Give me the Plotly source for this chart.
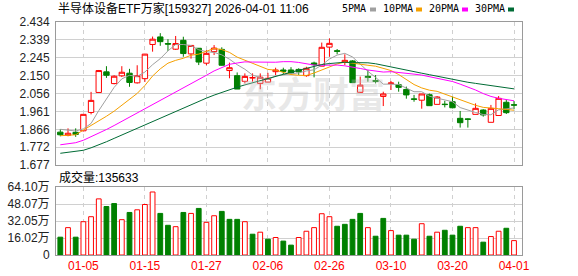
import plotly.graph_objects as go

# ---------------- data ----------------
dates = ["12-29", "12-30", "12-31", "01-05", "01-06", "01-07", "01-08", "01-09", "01-12", "01-13",
         "01-14", "01-15", "01-16", "01-19", "01-20", "01-21", "01-22", "01-23", "01-26", "01-27",
         "01-28", "01-29", "01-30", "02-02", "02-03", "02-04", "02-05", "02-06", "02-09", "02-10",
         "02-11", "02-12", "02-13", "02-24", "02-25", "02-26", "02-27", "03-02", "03-03", "03-04",
         "03-05", "03-06", "03-09", "03-10", "03-11", "03-12", "03-13", "03-16", "03-17", "03-18",
         "03-19", "03-20", "03-23", "03-24", "03-25", "03-26", "03-27", "03-30", "03-31", "04-01"]

opens = [1.851, 1.834, 1.850, 1.858, 1.955, 2.061, 2.170, 2.108, 2.149, 2.163,
         2.112, 2.134, 2.315, 2.355, 2.320, 2.290, 2.337, 2.265, 2.295, 2.216,
         2.277, 2.289, 2.177, 2.150, 2.120, 2.137, 2.109, 2.116, 2.171, 2.180,
         2.180, 2.183, 2.150, 2.217, 2.200, 2.301, 2.282, 2.220, 2.228, 2.062,
         2.146, 2.124, 2.040, 2.108, 2.102, 2.077, 2.027, 2.020, 2.049, 1.998,
         1.999, 2.012, 1.924, 1.921, 1.945, 1.968, 1.903, 1.939, 2.009, 1.996]
highs = [1.866, 1.871, 1.871, 1.945, 2.064, 2.180, 2.200, 2.152, 2.200, 2.186,
         2.205, 2.265, 2.357, 2.375, 2.343, 2.360, 2.356, 2.310, 2.296, 2.285,
         2.312, 2.300, 2.219, 2.167, 2.162, 2.162, 2.162, 2.165, 2.192, 2.192,
         2.195, 2.189, 2.197, 2.224, 2.325, 2.347, 2.291, 2.263, 2.232, 2.145,
         2.180, 2.153, 2.065, 2.122, 2.118, 2.092, 2.048, 2.053, 2.055, 2.042,
         2.017, 2.039, 1.963, 1.924, 2.003, 1.972, 1.995, 2.042, 2.021, 2.016]
lows = [1.829, 1.829, 1.826, 1.855, 1.945, 2.061, 2.138, 2.104, 2.143, 2.091,
        2.108, 2.117, 2.277, 2.308, 2.281, 2.286, 2.250, 2.240, 2.206, 2.205,
        2.259, 2.203, 2.136, 2.079, 2.109, 2.118, 2.078, 2.115, 2.153, 2.158,
        2.158, 2.154, 2.144, 2.141, 2.200, 2.250, 2.263, 2.206, 2.111, 2.062,
        2.118, 2.109, 1.989, 2.074, 2.065, 2.028, 2.012, 1.975, 1.991, 1.998,
        1.982, 1.977, 1.875, 1.875, 1.945, 1.933, 1.903, 1.939, 1.947, 1.972]
closes = [1.837, 1.845, 1.839, 1.945, 2.019, 2.177, 2.152, 2.147, 2.168, 2.114,
          2.150, 2.264, 2.343, 2.330, 2.317, 2.320, 2.267, 2.310, 2.222, 2.268,
          2.296, 2.205, 2.192, 2.079, 2.146, 2.140, 2.142, 2.136, 2.180, 2.173,
          2.164, 2.170, 2.189, 2.208, 2.300, 2.321, 2.279, 2.231, 2.113, 2.100,
          2.141, 2.120, 2.053, 2.111, 2.088, 2.048, 2.025, 2.053, 1.991, 2.037,
          1.997, 1.980, 1.901, 1.919, 1.977, 1.942, 1.977, 2.030, 1.954, 1.994]

ma5 = [1.866, 1.862, 1.857, 1.868, 1.897, 1.965, 2.026, 2.088, 2.133, 2.152,
       2.146, 2.169, 2.208, 2.240, 2.281, 2.315, 2.315, 2.309, 2.287, 2.277,
       2.273, 2.260, 2.237, 2.208, 2.184, 2.153, 2.140, 2.129, 2.149, 2.155,
       2.158, 2.165, 2.175, 2.181, 2.206, 2.238, 2.259, 2.268, 2.249, 2.209,
       2.173, 2.141, 2.105, 2.105, 2.103, 2.084, 2.065, 2.065, 2.041, 2.031,
       2.021, 2.012, 1.981, 1.967, 1.955, 1.944, 1.943, 1.969, 1.976, 1.979]
ma10 = [1.832, 1.833, 1.837, 1.862, 1.885, 1.910, 1.935, 1.962, 1.995, 2.024,
        2.056, 2.098, 2.148, 2.186, 2.216, 2.231, 2.242, 2.258, 2.264, 2.279,
        2.294, 2.288, 2.273, 2.248, 2.231, 2.213, 2.200, 2.183, 2.179, 2.169,
        2.156, 2.152, 2.151, 2.164, 2.180, 2.198, 2.212, 2.222, 2.215, 2.208,
        2.205, 2.200, 2.187, 2.177, 2.156, 2.128, 2.103, 2.085, 2.073, 2.067,
        2.052, 2.038, 2.023, 2.004, 1.993, 1.982, 1.977, 1.975, 1.971, 1.967]
ma20 = [1.784, 1.788, 1.795, 1.808, 1.826, 1.845, 1.865, 1.886, 1.908, 1.930,
        1.950, 1.972, 1.995, 2.018, 2.040, 2.063, 2.085, 2.108, 2.130, 2.152,
        2.175, 2.193, 2.210, 2.217, 2.223, 2.222, 2.221, 2.220, 2.221, 2.224,
        2.224, 2.220, 2.212, 2.206, 2.205, 2.205, 2.206, 2.202, 2.196, 2.188,
        2.180, 2.176, 2.169, 2.171, 2.168, 2.163, 2.158, 2.153, 2.144, 2.137,
        2.129, 2.119, 2.105, 2.090, 2.074, 2.055, 2.040, 2.030, 2.022, 2.017]
ma30 = [1.739, 1.743, 1.747, 1.755, 1.768, 1.783, 1.800, 1.818, 1.836, 1.854,
        1.870, 1.888, 1.906, 1.924, 1.942, 1.960, 1.978, 1.996, 2.014, 2.031,
        2.047, 2.062, 2.076, 2.089, 2.101, 2.113, 2.125, 2.136, 2.147, 2.157,
        2.168, 2.179, 2.191, 2.199, 2.209, 2.214, 2.218, 2.221, 2.219, 2.218,
        2.218, 2.213, 2.204, 2.196, 2.189, 2.180, 2.171, 2.163, 2.155, 2.147,
        2.138, 2.130, 2.120, 2.115, 2.109, 2.103, 2.097, 2.094, 2.086, 2.080]

# volume in 万 (10k)
volumes = [16.8, 25.8, 16.8, 31.4, 36.1, 52.9, 45.7, 48.5, 33.3, 40.1,
           42.6, 47.6, 59.4, 39.2, 28.0, 26.7, 40.1, 39.2, 43.9, 30.8,
           37.0, 41.1, 33.6, 33.6, 31.4, 19.6, 21.5, 14.9, 16.5, 13.1,
           9.3, 16.5, 22.4, 25.8, 38.9, 36.1, 27.1, 28.9, 33.6, 39.2,
           25.8, 17.7, 34.5, 23.0, 18.7, 18.7, 14.9, 29.5, 17.7, 21.5,
           23.3, 18.7, 27.1, 25.8, 25.8, 12.1, 17.4, 22.4, 25.2, 13.56]

price_ticks = [1.677, 1.772, 1.866, 1.961, 2.056, 2.150, 2.245, 2.339, 2.434]
vol_ticks = [0, 16.02, 32.05, 48.07, 64.10]
vol_tick_text = ["0", "16.02万", "32.05万", "48.07万", "64.10万"]
date_ticks = ["01-05", "01-15", "01-27", "02-06", "02-26", "03-10", "03-20", "04-01"]

title_text = "半导体设备ETF万家[159327] 2026-04-01 11:06"
vol_title = "成交量:135633"
ma_names = ["5PMA", "10PMA", "20PMA", "30PMA"]

# ---------------- styling ----------------
RED = "#ff0000"
GREEN = "#008000"
MA_COLORS = ["#a0a0a0", "#f5a000", "#ff00ff", "#006b35"]
GRID = "#d0d0d0"
BORDER = "#9a9a9a"
FONT = "Liberation Sans, Noto Sans CJK SC, sans-serif"

W, H = 578, 276
L, R, T, B = 56, 56, 22, 21
PW, PH = W - L - R, H - T - B


def px_x(x):
    return (x - L) / PW


def px_y(y):
    return (H - B - y) / PH


fig = go.Figure()

fig.add_trace(go.Candlestick(
    x=dates, open=opens, high=highs, low=lows, close=closes,
    increasing=dict(line=dict(color=RED, width=1), fillcolor="white"),
    decreasing=dict(line=dict(color=GREEN, width=1), fillcolor=GREEN),
    whiskerwidth=0, xaxis="x", yaxis="y", showlegend=False, hoverinfo="skip"))

for vals, col in zip([ma5, ma10, ma20, ma30], MA_COLORS):
    fig.add_trace(go.Scatter(x=dates, y=vals, mode="lines",
                             line=dict(color=col, width=1),
                             xaxis="x", yaxis="y", showlegend=False, hoverinfo="skip"))

up = [closes[i] >= (closes[i - 1] if i > 0 else opens[i]) for i in range(len(closes))]
fig.add_trace(go.Bar(
    x=dates, y=volumes, width=0.62,
    marker=dict(color=["white" if u else GREEN for u in up],
                line=dict(color=[RED if u else GREEN for u in up], width=1)),
    xaxis="x2", yaxis="y2", showlegend=False, hoverinfo="skip"))

xcommon = dict(type="category", range=[-0.56, 60.04], tickmode="array", tickvals=date_ticks,
               ticktext=date_ticks, showgrid=True, gridcolor=GRID, griddash="4px,4px", gridwidth=1,
               showline=True, mirror=True, linecolor=BORDER, linewidth=1, ticks="",
               zeroline=False, fixedrange=True, automargin=False)

fig.update_layout(
    width=W, height=H,
    margin=dict(l=L, r=R, t=T, b=B, pad=0, autoexpand=False),
    paper_bgcolor="white", plot_bgcolor="white",
    boxgap=0.3, boxgroupgap=0,
    bargap=0.3,
    xaxis=dict(xcommon, domain=[0, 1], anchor="y", showticklabels=False,
               rangeslider=dict(visible=False)),
    xaxis2=dict(xcommon, domain=[0, 1], anchor="y2", matches="x", showticklabels=True,
                tickfont=dict(family=FONT, size=12, color=RED)),
    yaxis=dict(domain=[px_y(165), 1], range=[price_ticks[0], price_ticks[-1]], tickmode="array",
               tickvals=price_ticks, ticktext=[f"{v:.3f}" for v in price_ticks],
               showgrid=True, gridcolor=GRID, gridwidth=1, showline=True, mirror=True,
               linecolor=BORDER, linewidth=1, ticks="", zeroline=False, automargin=False,
               tickfont=dict(family=FONT, size=12, color="#222"), ticklabelstandoff=3),
    yaxis2=dict(domain=[0, px_y(187)], range=[0, vol_ticks[-1]], tickmode="array",
                tickvals=vol_ticks, ticktext=vol_tick_text,
                showgrid=True, gridcolor=GRID, gridwidth=1, showline=True, mirror=True,
                linecolor=BORDER, linewidth=1, ticks="", zeroline=False, automargin=False,
                tickfont=dict(family=FONT, size=12, color="#222"), ticklabelstandoff=3),
)

annotations = [
    dict(text=title_text, x=px_x(56), y=px_y(9), xref="paper", yref="paper",
         xanchor="left", yanchor="middle", showarrow=False,
         font=dict(family=FONT, size=12, color="#000")),
    dict(text=vol_title, x=px_x(57), y=px_y(177), xref="paper", yref="paper",
         xanchor="left", yanchor="middle", showarrow=False,
         font=dict(family=FONT, size=12, color="#000")),
    dict(text="东方财富", x=px_x(313), y=px_y(92), xref="paper", yref="paper",
         xanchor="center", yanchor="middle", showarrow=False,
         font=dict(family="Noto Sans CJK SC", size=36, color="rgba(190,190,190,0.35)",
                   weight="bold")),
]
legend_x = [340, 381, 427, 473]
square_x = [370, 416, 462, 508]
shapes = []
for name, lx, sx, col in zip(ma_names, legend_x, square_x, MA_COLORS):
    annotations.append(dict(text=name, x=px_x(lx), y=px_y(9), xref="paper", yref="paper",
                            xanchor="left", yanchor="middle", showarrow=False,
                            font=dict(family="DejaVu Sans Mono", size=10, color="#000")))
    shapes.append(dict(type="rect", xref="paper", yref="paper",
                       x0=px_x(sx), x1=px_x(sx + 6), y0=px_y(11.5), y1=px_y(7.5),
                       fillcolor=col, line=dict(width=0)))

fig.update_layout(annotations=annotations, shapes=shapes)

fig.write_html("out.html")
